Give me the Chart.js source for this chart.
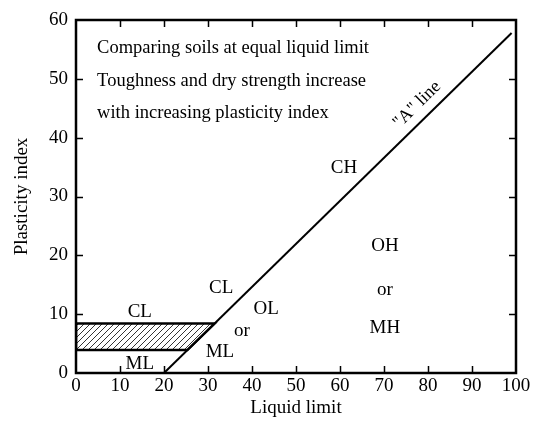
<!DOCTYPE html>
<html lang="en">
<head>
<meta charset="UTF-8">
<title>Plasticity chart</title>
<script src="https://cdn.jsdelivr.net/npm/chart.js"></script>
<style>
  body { margin: 0; background: #fff; }
  #wrap { width: 534px; height: 425px; }
</style>
</head>
<body>
<div id="wrap"><canvas id="plastChart"></canvas></div>
<script>
// A-line: PI = 0.73 (LL - 20)
const aLineLL = [20, 99];
const aLinePI = [0, 57.8];

// hatched CL-ML band, closed outline
const bandLL = [0, 25.3, 31.5, 0, 0];
const bandPI = [3.9, 3.9, 8.4, 8.4, 3.9];

const xTicks = [0, 10, 20, 30, 40, 50, 60, 70, 80, 90, 100];
const yTicks = [0, 10, 20, 30, 40, 50, 60];

// zone labels [text, LL, PI]
const zoneText = ["CH", "OH", "or", "MH", "CL", "OL", "or", "ML", "CL", "ML"];
const zoneLL = [60.9, 70.2, 70.2, 70.2, 33, 43.2, 37.7, 32.7, 14.5, 14.5];
const zonePI = [34.9, 21.6, 14.1, 7.7, 14.5, 10.9, 7.1, 3.6, 10.4, 1.5];

const noteLines = ["Comparing soils at equal liquid limit",
                   "Toughness and dry strength increase",
                   "with increasing plasticity index"];
const notePI = [55.3, 49.6, 44.1];

const serif = "'Liberation Serif', 'Times New Roman', serif";

// hatch pattern
function makeHatch() {
    const c = document.createElement("canvas");
    c.width = 6; c.height = 6;
    const g = c.getContext("2d");
    g.strokeStyle = "#000";
    g.lineWidth = 0.8;
    g.beginPath();
    g.moveTo(0, 6); g.lineTo(6, 0);
    g.moveTo(-1, 1); g.lineTo(1, -1);
    g.moveTo(5, 7); g.lineTo(7, 5);
    g.stroke();
    return g.createPattern(c, "repeat");
}

const toPts = (xs, ys) => xs.map((x, i) => ({ x: x, y: ys[i] }));

// box, inward ticks, text labels
const decor = {
    id: "decor",
    afterDraw(chart) {
        const ctx = chart.ctx;
        const xs = chart.scales.x, ys = chart.scales.y;
        const a = chart.chartArea;
        ctx.save();
        ctx.strokeStyle = "#000";
        ctx.lineWidth = 1.5;
        ctx.beginPath();
        xTicks.forEach(v => {
            if (v === 0 || v === 100) return;
            const px = Math.round(xs.getPixelForValue(v)) + 0.5;
            ctx.moveTo(px, a.bottom); ctx.lineTo(px, a.bottom - 7);
            ctx.moveTo(px, a.top); ctx.lineTo(px, a.top + 7);
        });
        yTicks.forEach(v => {
            if (v === 0 || v === 60) return;
            const py = Math.round(ys.getPixelForValue(v)) + 0.5;
            ctx.moveTo(a.left, py); ctx.lineTo(a.left + 7, py);
            ctx.moveTo(a.right, py); ctx.lineTo(a.right - 7, py);
        });
        ctx.stroke();
        ctx.lineWidth = 2.5;
        ctx.strokeRect(a.left, a.top, a.right - a.left, a.bottom - a.top);

        ctx.fillStyle = "#000";
        ctx.textBaseline = "middle";
        ctx.font = "18.5px " + serif;
        ctx.textAlign = "left";
        noteLines.forEach((t, i) => {
            ctx.fillText(t, xs.getPixelForValue(4.8), ys.getPixelForValue(notePI[i]));
        });

        ctx.font = "19px " + serif;
        ctx.textAlign = "center";
        zoneText.forEach((t, i) => {
            ctx.fillText(t, xs.getPixelForValue(zoneLL[i]), ys.getPixelForValue(zonePI[i]));
        });

        // "A" line label along the line
        const ang = Math.atan2(ys.getPixelForValue(aLinePI[1]) - ys.getPixelForValue(aLinePI[0]),
                               xs.getPixelForValue(aLineLL[1]) - xs.getPixelForValue(aLineLL[0]));
        ctx.translate(xs.getPixelForValue(77.5), ys.getPixelForValue(45.6));
        ctx.rotate(ang);
        ctx.font = "18px " + serif;
        ctx.fillText('"A" line', 0, 0);
        ctx.restore();
    }
};

new Chart(document.getElementById("plastChart"), {
    type: "scatter",
    data: {
        datasets: [
            {
                data: toPts(bandLL, bandPI),
                showLine: true,
                borderColor: "#000",
                borderWidth: 2.5,
                backgroundColor: makeHatch(),
                fill: "shape",
                pointRadius: 0,
                tension: 0
            },
            {
                data: toPts(aLineLL, aLinePI),
                showLine: true,
                borderColor: "#000",
                borderWidth: 2,
                pointRadius: 0,
                fill: false
            }
        ]
    },
    options: {
        responsive: true,
        maintainAspectRatio: false,
        animation: false,
        layout: { padding: { top: 20, right: 18, left: 0, bottom: 0 } },
        plugins: {
            legend: { display: false },
            tooltip: { enabled: false }
        },
        scales: {
            x: {
                type: "linear",
                min: 0, max: 100,
                afterBuildTicks: s => { s.ticks = xTicks.map(v => ({ value: v })); },
                afterFit: s => { s.height = 52; },
                grid: { display: false, drawTicks: false },
                border: { display: false },
                ticks: { color: "#000", padding: 2, font: { family: serif, size: 19 } },
                title: { display: true, text: "Liquid limit", color: "#000",
                         padding: { top: 0, bottom: 6 },
                         font: { family: serif, size: 19 } }
            },
            y: {
                type: "linear",
                min: 0, max: 60,
                afterBuildTicks: s => { s.ticks = yTicks.map(v => ({ value: v })); },
                afterFit: s => { s.width = 76; },
                grid: { display: false, drawTicks: false },
                border: { display: false },
                ticks: { color: "#000", padding: 8, font: { family: serif, size: 19 } },
                title: { display: true, text: "Plasticity index", color: "#000",
                         padding: { top: 11, bottom: 0 },
                         font: { family: serif, size: 19 } }
            }
        }
    },
    plugins: [decor]
});
</script>
</body>
</html>
